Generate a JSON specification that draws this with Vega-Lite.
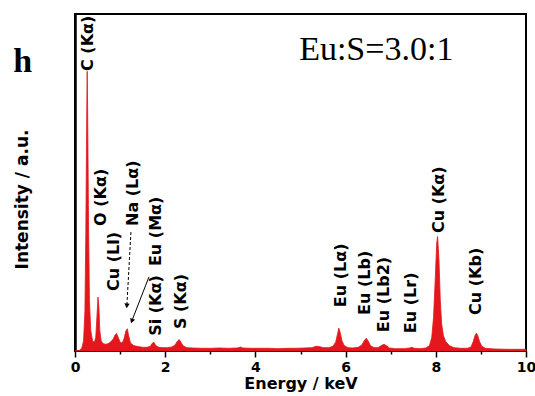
{
  "$schema": "https://vega.github.io/schema/vega-lite/v6.json",
  "width": 451,
  "height": 337,
  "autosize": {"type": "none"},
  "padding": {"left": 75, "top": 14, "right": 9, "bottom": 45},
  "background": "white",
  "config": {"view": {"stroke": "black", "strokeWidth": 2}, "font": "DejaVu Sans"},
  "datasets": {
    "spectrum": [
      {"keV": 0.00, "I": 0}, {"keV": 0.10, "I": 0.2}, {"keV": 0.15, "I": 0.8}, {"keV": 0.19, "I": 3},
      {"keV": 0.22, "I": 12}, {"keV": 0.24, "I": 35}, {"keV": 0.26, "I": 70}, {"keV": 0.27, "I": 83},
      {"keV": 0.28, "I": 72}, {"keV": 0.30, "I": 38}, {"keV": 0.32, "I": 15}, {"keV": 0.35, "I": 6},
      {"keV": 0.39, "I": 3}, {"keV": 0.43, "I": 2.6}, {"keV": 0.46, "I": 4}, {"keV": 0.49, "I": 11},
      {"keV": 0.51, "I": 16}, {"keV": 0.53, "I": 13}, {"keV": 0.55, "I": 6}, {"keV": 0.58, "I": 3},
      {"keV": 0.62, "I": 2.2}, {"keV": 0.68, "I": 2}, {"keV": 0.74, "I": 2.2}, {"keV": 0.80, "I": 2.8},
      {"keV": 0.85, "I": 3.6}, {"keV": 0.89, "I": 4.8}, {"keV": 0.92, "I": 5.2}, {"keV": 0.96, "I": 4},
      {"keV": 1.00, "I": 2.6}, {"keV": 1.05, "I": 2.4}, {"keV": 1.09, "I": 3.8}, {"keV": 1.13, "I": 6},
      {"keV": 1.16, "I": 6.6}, {"keV": 1.19, "I": 4.5}, {"keV": 1.23, "I": 2.4}, {"keV": 1.30, "I": 1.6},
      {"keV": 1.40, "I": 1.3}, {"keV": 1.50, "I": 1.1}, {"keV": 1.60, "I": 1.1}, {"keV": 1.67, "I": 1.4},
      {"keV": 1.72, "I": 2.4}, {"keV": 1.75, "I": 2.6}, {"keV": 1.79, "I": 1.6}, {"keV": 1.86, "I": 1.1},
      {"keV": 1.95, "I": 1.0}, {"keV": 2.05, "I": 1.0}, {"keV": 2.15, "I": 1.2}, {"keV": 2.22, "I": 1.8},
      {"keV": 2.27, "I": 2.9}, {"keV": 2.31, "I": 3.4}, {"keV": 2.35, "I": 2.6}, {"keV": 2.40, "I": 1.5},
      {"keV": 2.48, "I": 1.0}, {"keV": 2.60, "I": 0.9}, {"keV": 2.80, "I": 0.8}, {"keV": 3.00, "I": 0.8},
      {"keV": 3.20, "I": 0.9}, {"keV": 3.40, "I": 0.8}, {"keV": 3.60, "I": 0.9}, {"keV": 3.67, "I": 1.2},
      {"keV": 3.72, "I": 0.9}, {"keV": 3.90, "I": 0.8}, {"keV": 4.10, "I": 0.8}, {"keV": 4.30, "I": 0.8},
      {"keV": 4.50, "I": 0.7}, {"keV": 4.70, "I": 0.8}, {"keV": 4.90, "I": 0.8}, {"keV": 5.10, "I": 0.9},
      {"keV": 5.25, "I": 1.0}, {"keV": 5.35, "I": 1.4}, {"keV": 5.42, "I": 1.3}, {"keV": 5.50, "I": 1.0},
      {"keV": 5.62, "I": 1.0}, {"keV": 5.72, "I": 1.4}, {"keV": 5.78, "I": 2.6}, {"keV": 5.82, "I": 5},
      {"keV": 5.85, "I": 6.8}, {"keV": 5.88, "I": 5.5}, {"keV": 5.92, "I": 3}, {"keV": 5.97, "I": 1.6},
      {"keV": 6.05, "I": 1.0}, {"keV": 6.15, "I": 0.9}, {"keV": 6.28, "I": 1.1}, {"keV": 6.36, "I": 1.8},
      {"keV": 6.42, "I": 3.2}, {"keV": 6.46, "I": 3.8}, {"keV": 6.50, "I": 3}, {"keV": 6.55, "I": 1.6},
      {"keV": 6.63, "I": 1.0}, {"keV": 6.72, "I": 1.0}, {"keV": 6.79, "I": 1.6}, {"keV": 6.85, "I": 2.0},
      {"keV": 6.90, "I": 1.6}, {"keV": 6.97, "I": 0.9}, {"keV": 7.10, "I": 0.7}, {"keV": 7.30, "I": 0.7},
      {"keV": 7.42, "I": 0.9}, {"keV": 7.47, "I": 1.1}, {"keV": 7.52, "I": 0.8}, {"keV": 7.65, "I": 0.7},
      {"keV": 7.78, "I": 0.9}, {"keV": 7.86, "I": 1.6}, {"keV": 7.91, "I": 4}, {"keV": 7.95, "I": 10},
      {"keV": 7.99, "I": 22}, {"keV": 8.02, "I": 32}, {"keV": 8.04, "I": 34}, {"keV": 8.07, "I": 27},
      {"keV": 8.10, "I": 15}, {"keV": 8.13, "I": 8}, {"keV": 8.17, "I": 4.5}, {"keV": 8.22, "I": 2.8},
      {"keV": 8.30, "I": 1.6}, {"keV": 8.40, "I": 1.0}, {"keV": 8.55, "I": 0.8}, {"keV": 8.70, "I": 0.8},
      {"keV": 8.78, "I": 1.2}, {"keV": 8.83, "I": 2.8}, {"keV": 8.87, "I": 4.6}, {"keV": 8.90, "I": 5.3},
      {"keV": 8.93, "I": 4.6}, {"keV": 8.97, "I": 2.8}, {"keV": 9.02, "I": 1.4}, {"keV": 9.10, "I": 0.8},
      {"keV": 9.30, "I": 0.6}, {"keV": 9.60, "I": 0.5}, {"keV": 10.0, "I": 0.5}
    ],
    "labels": [
      {"keV": 0.29, "I": 83.1, "label": "C (Kα)"},
      {"keV": 0.58, "I": 37.1, "label": "O (Kα)"},
      {"keV": 0.86, "I": 17.8, "label": "Cu (Ll)"},
      {"keV": 1.28, "I": 37.1, "label": "Na (Lα)"},
      {"keV": 1.80, "I": 25.2, "label": "Eu (Mα)"},
      {"keV": 1.80, "I": 4.5, "label": "Si (Kα)"},
      {"keV": 2.35, "I": 6.5, "label": "S (Kα)"},
      {"keV": 5.90, "I": 13.0, "label": "Eu (Lα)"},
      {"keV": 6.43, "I": 10.7, "label": "Eu (Lb)"},
      {"keV": 6.85, "I": 5.6, "label": "Eu (Lb2)"},
      {"keV": 7.45, "I": 5.3, "label": "Eu (Lr)"},
      {"keV": 8.07, "I": 35.0, "label": "Cu (Kα)"},
      {"keV": 8.90, "I": 10.7, "label": "Cu (Kb)"}
    ],
    "arrows": [
      {"name": "Na", "keV": 1.24, "I": 35.3, "keV2": 1.15, "I2": 13.4},
      {"name": "Eu", "keV": 1.64, "I": 22.0, "keV2": 1.26, "I2": 8.9}
    ],
    "notes": [
      {"name": "panel", "keV": -1.16, "I": 82.8, "text": "h"},
      {"name": "ratio", "keV": 4.97, "I": 86.4, "text": "Eu:S=3.0:1"}
    ]
  },
  "layer": [
    {
      "data": {"name": "spectrum"},
      "mark": {"type": "area", "color": "#e3171c", "stroke": "#e3171c", "strokeWidth": 0.8, "opacity": 1},
      "encoding": {
        "x": {
          "field": "keV", "type": "quantitative",
          "scale": {"domain": [0, 10], "nice": false, "zero": false},
          "axis": {
            "title": "Energy / keV",
            "values": [0, 1, 2, 3, 4, 5, 6, 7, 8, 9, 10],
            "labelExpr": "datum.value % 2 === 0 ? datum.label : ''",
            "tickSize": {"condition": {"test": "datum.value % 2 === 1", "value": 3}, "value": 6},
            "tickColor": "black", "tickWidth": 1.5,
            "domain": false, "grid": false,
            "labelFont": "DejaVu Sans", "labelFontWeight": "bold", "labelFontSize": 14, "labelColor": "black",
            "labelPadding": 3, "labelFlush": false, "labelOverlap": false,
            "titleFont": "DejaVu Sans", "titleFontWeight": "bold", "titleFontSize": 16, "titleColor": "black",
            "titlePadding": 1
          }
        },
        "y": {
          "field": "I", "type": "quantitative",
          "scale": {"domain": [0, 100], "nice": false},
          "axis": {
            "title": "Intensity / a.u.",
            "labels": false, "ticks": false, "grid": false,
            "domain": true, "domainColor": "black", "domainWidth": 2.5,
            "titleFont": "DejaVu Sans", "titleFontWeight": "bold", "titleFontSize": 17, "titleColor": "black",
            "titlePadding": 44, "titleY": 185
          }
        }
      }
    },
    {
      "data": {"name": "labels"},
      "mark": {"type": "text", "angle": 270, "align": "left", "baseline": "middle", "font": "DejaVu Sans", "fontWeight": "bold", "fontSize": 16, "color": "black"},
      "encoding": {
        "x": {"field": "keV", "type": "quantitative"},
        "y": {"field": "I", "type": "quantitative"},
        "text": {"field": "label"}
      }
    },
    {
      "data": {"name": "arrows"},
      "transform": [{"filter": "datum.name === 'Na'"}],
      "mark": {"type": "rule", "color": "black", "strokeWidth": 1, "strokeDash": [3, 2]},
      "encoding": {
        "x": {"field": "keV", "type": "quantitative"},
        "y": {"field": "I", "type": "quantitative"},
        "x2": {"field": "keV2"},
        "y2": {"field": "I2"}
      }
    },
    {
      "data": {"name": "arrows"},
      "transform": [{"filter": "datum.name === 'Eu'"}],
      "mark": {"type": "rule", "color": "black", "strokeWidth": 1},
      "encoding": {
        "x": {"field": "keV", "type": "quantitative"},
        "y": {"field": "I", "type": "quantitative"},
        "x2": {"field": "keV2"},
        "y2": {"field": "I2"}
      }
    },
    {
      "data": {"name": "arrows"},
      "transform": [{"filter": "datum.name === 'Na'"}],
      "mark": {"type": "point", "shape": "triangle-down", "filled": true, "color": "black", "size": 28, "angle": 4, "opacity": 1},
      "encoding": {
        "x": {"field": "keV2", "type": "quantitative"},
        "y": {"field": "I2", "type": "quantitative"}
      }
    },
    {
      "data": {"name": "arrows"},
      "transform": [{"filter": "datum.name === 'Eu'"}],
      "mark": {"type": "point", "shape": "triangle-down", "filled": true, "color": "black", "size": 28, "angle": 21, "opacity": 1},
      "encoding": {
        "x": {"field": "keV2", "type": "quantitative"},
        "y": {"field": "I2", "type": "quantitative"}
      }
    },
    {
      "data": {"name": "notes"},
      "transform": [{"filter": "datum.name === 'panel'"}],
      "mark": {"type": "text", "align": "center", "baseline": "alphabetic", "font": "Liberation Serif", "fontWeight": "bold", "fontSize": 34, "color": "black"},
      "encoding": {
        "x": {"field": "keV", "type": "quantitative"},
        "y": {"field": "I", "type": "quantitative"},
        "text": {"field": "text"}
      }
    },
    {
      "data": {"name": "notes"},
      "transform": [{"filter": "datum.name === 'ratio'"}],
      "mark": {"type": "text", "align": "left", "baseline": "alphabetic", "font": "Liberation Serif", "fontSize": 34, "color": "black"},
      "encoding": {
        "x": {"field": "keV", "type": "quantitative"},
        "y": {"field": "I", "type": "quantitative"},
        "text": {"field": "text"}
      }
    }
  ]
}
